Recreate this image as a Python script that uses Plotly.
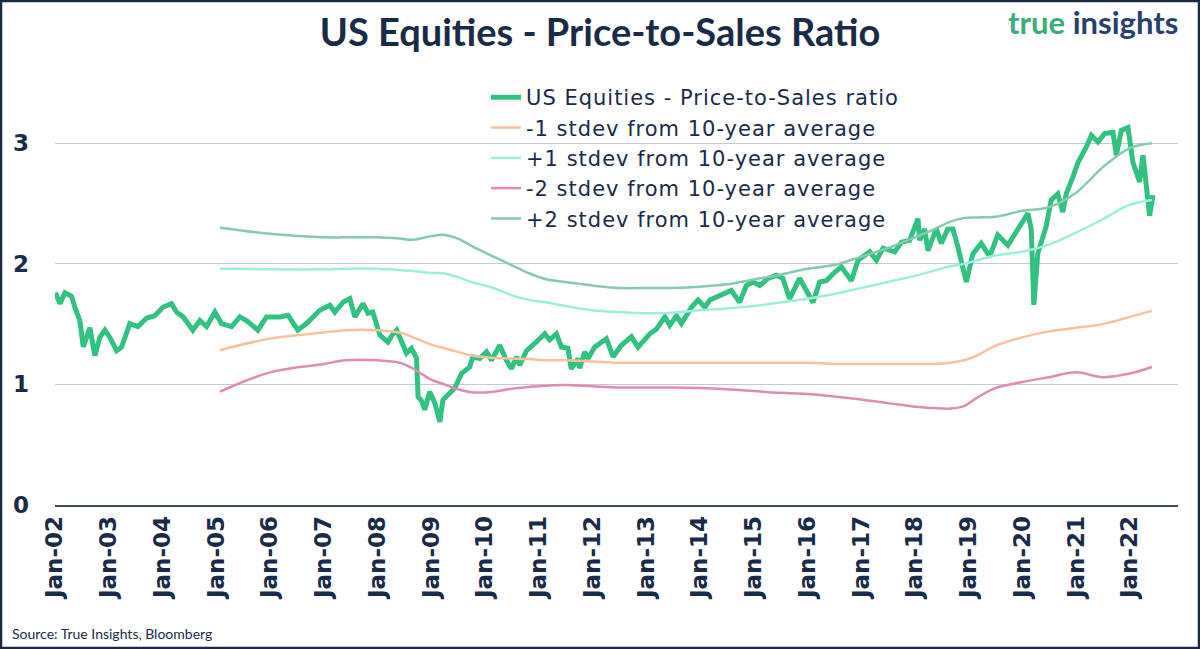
import plotly.graph_objects as go

# ---------------- data ----------------
ps_dates = [
    "2002-01-04", "2002-02-04", "2002-03-10", "2002-04-24", "2002-05-16", "2002-06-19",
    "2002-07-12", "2002-08-26", "2002-09-29", "2002-11-02", "2002-12-06", "2003-01-09",
    "2003-02-24", "2003-03-30", "2003-05-25", "2003-07-18", "2003-09-15", "2003-11-10",
    "2004-01-04", "2004-03-03", "2004-04-06", "2004-05-21", "2004-07-26", "2004-09-12",
    "2004-10-27", "2004-12-23", "2005-02-06", "2005-04-15", "2005-06-10", "2005-07-26",
    "2005-10-11", "2005-12-09", "2006-03-09", "2006-05-04", "2006-07-09", "2006-09-06",
    "2006-12-06", "2007-02-12", "2007-03-18", "2007-05-14", "2007-06-28", "2007-08-01",
    "2007-09-26", "2007-10-30", "2007-12-01", "2008-01-04", "2008-01-18", "2008-03-13",
    "2008-04-16", "2008-05-11", "2008-07-17", "2008-08-20", "2008-09-23", "2008-10-04",
    "2008-10-29", "2008-11-18", "2008-12-22", "2009-01-26", "2009-03-01", "2009-03-21",
    "2009-04-24", "2009-06-10", "2009-07-26", "2009-09-20", "2009-10-11", "2009-11-27",
    "2010-01-12", "2010-02-15", "2010-04-12", "2010-05-27", "2010-07-01", "2010-08-04",
    "2010-08-26", "2010-10-11", "2010-12-06", "2011-02-12", "2011-03-17", "2011-05-02",
    "2011-06-05", "2011-07-19", "2011-08-11", "2011-09-26", "2011-10-07", "2011-11-10",
    "2011-12-03", "2012-01-18", "2012-04-06", "2012-05-21", "2012-07-17", "2012-09-23",
    "2012-11-07", "2013-01-26", "2013-03-13", "2013-05-08", "2013-06-11", "2013-07-26",
    "2013-08-29", "2013-11-05", "2013-12-20", "2014-02-04", "2014-03-10", "2014-06-08",
    "2014-08-03", "2014-09-28", "2014-11-13", "2014-12-28", "2015-02-12", "2015-04-09",
    "2015-06-05", "2015-07-19", "2015-09-03", "2015-11-10", "2015-12-14", "2016-02-09",
    "2016-03-25", "2016-05-10", "2016-07-05", "2016-08-20", "2016-10-27", "2016-12-11",
    "2017-03-01", "2017-04-15", "2017-05-30", "2017-08-18", "2017-10-02", "2017-11-27",
    "2018-01-23", "2018-02-03", "2018-03-09", "2018-03-31", "2018-05-27", "2018-06-30",
    "2018-08-13", "2018-09-17", "2018-10-21", "2018-12-17", "2019-01-31", "2019-03-29",
    "2019-05-24", "2019-07-19", "2019-09-26", "2019-12-14", "2020-02-09", "2020-03-03",
    "2020-03-20", "2020-04-16", "2020-06-12", "2020-07-16", "2020-08-30", "2020-10-03",
    "2020-10-26", "2020-12-10", "2021-01-14", "2021-03-12", "2021-04-15", "2021-05-30",
    "2021-07-14", "2021-09-09", "2021-10-02", "2021-11-05", "2021-12-20", "2022-01-23",
    "2022-03-09", "2022-04-01", "2022-05-05", "2022-05-16", "2022-06-08",
]
ps_values = [
    1.76, 1.67, 1.76, 1.73, 1.64, 1.53,
    1.31, 1.47, 1.24, 1.39, 1.45, 1.39,
    1.28, 1.31, 1.505, 1.48, 1.55, 1.57,
    1.64, 1.67, 1.60, 1.56, 1.45, 1.53,
    1.48, 1.60, 1.505, 1.48, 1.56, 1.53,
    1.45, 1.56, 1.56, 1.574, 1.45, 1.505,
    1.615, 1.657, 1.60, 1.684, 1.712, 1.56,
    1.67, 1.59, 1.60, 1.46, 1.41, 1.35,
    1.42, 1.45, 1.26, 1.30, 1.22, 0.90,
    0.86, 0.79, 0.94, 0.845, 0.69, 0.87,
    0.91, 0.97, 1.09, 1.146, 1.23, 1.215,
    1.27, 1.20, 1.325, 1.20, 1.13, 1.23,
    1.16, 1.28, 1.34, 1.42, 1.37, 1.42,
    1.31, 1.30, 1.13, 1.215, 1.135, 1.27,
    1.215, 1.31, 1.38, 1.23, 1.325, 1.395,
    1.31, 1.42, 1.46, 1.56, 1.49, 1.57,
    1.505, 1.64, 1.70, 1.64, 1.70, 1.75,
    1.78, 1.68, 1.82, 1.85, 1.82, 1.88,
    1.905, 1.88, 1.71, 1.88, 1.81, 1.68,
    1.85, 1.86, 1.93, 1.975, 1.86, 2.03,
    2.10, 2.03, 2.13, 2.10, 2.18, 2.195,
    2.375, 2.195, 2.29, 2.11, 2.29, 2.17,
    2.29, 2.29, 2.14, 1.85, 2.085, 2.17,
    2.06, 2.24, 2.155, 2.32, 2.42, 2.28,
    1.66, 2.085, 2.31, 2.53, 2.58, 2.43,
    2.58, 2.72, 2.84, 2.97, 3.065, 3.01,
    3.08, 3.09, 2.90, 3.107, 3.13, 2.84,
    2.68, 2.90, 2.57, 2.40, 2.57,
]

band_dates = [
    "2005-01-26", "2006-01-01", "2007-01-01", "2007-06-01", "2008-01-01", "2008-06-01",
    "2008-09-01", "2009-01-01", "2009-04-01", "2009-07-01", "2009-10-01", "2010-03-01",
    "2010-07-01", "2010-11-01", "2011-03-01", "2011-07-01", "2012-01-01", "2012-07-01",
    "2013-01-01", "2013-07-01", "2014-01-01", "2014-07-01", "2015-01-01", "2015-07-01",
    "2016-01-01", "2016-07-01", "2017-01-01", "2017-07-01", "2018-01-01", "2018-05-01",
    "2018-09-01", "2018-12-01", "2019-03-01", "2019-07-01", "2020-01-01", "2020-07-01",
    "2021-01-01", "2021-07-01", "2022-01-01", "2022-06-01",
]
minus1_values = [
    1.284, 1.38, 1.43, 1.45, 1.45, 1.43,
    1.39, 1.33, 1.30, 1.27, 1.24, 1.22,
    1.215, 1.21, 1.20, 1.20, 1.19, 1.18,
    1.18, 1.18, 1.18, 1.18, 1.18, 1.18,
    1.18, 1.17, 1.17, 1.17, 1.17, 1.17,
    1.18, 1.20, 1.24, 1.32, 1.39, 1.44,
    1.47, 1.50, 1.56, 1.61,
]
plus1_values = [
    1.96, 1.955, 1.955, 1.96, 1.96, 1.95,
    1.94, 1.925, 1.92, 1.89, 1.85, 1.80,
    1.74, 1.70, 1.68, 1.65, 1.615, 1.60,
    1.59, 1.595, 1.615, 1.63, 1.65, 1.68,
    1.71, 1.75, 1.80, 1.85, 1.90, 1.94,
    1.98, 2.00, 2.03, 2.07, 2.10, 2.16,
    2.26, 2.37, 2.49, 2.53,
]
minus2_values = [
    0.94, 1.10, 1.17, 1.20, 1.20, 1.18,
    1.13, 1.04, 1.00, 0.96, 0.935, 0.94,
    0.965, 0.98, 0.99, 0.995, 0.985, 0.975,
    0.975, 0.975, 0.97, 0.96, 0.945, 0.93,
    0.92, 0.90, 0.875, 0.845, 0.815, 0.805,
    0.80, 0.82, 0.89, 0.97, 1.02, 1.06,
    1.10, 1.06, 1.09, 1.145,
]
plus2_values = [
    2.30, 2.25, 2.22, 2.22, 2.22, 2.21,
    2.20, 2.23, 2.24, 2.21, 2.15, 2.06,
    1.99, 1.92, 1.87, 1.85, 1.82, 1.80,
    1.80, 1.80, 1.81, 1.83, 1.87, 1.91,
    1.96, 1.99, 2.06, 2.13, 2.22, 2.28,
    2.35, 2.38, 2.385, 2.39, 2.44, 2.47,
    2.59, 2.80, 2.96, 3.00,
]

series_names = [
    "US Equities - Price-to-Sales ratio",
    "-1 stdev from 10-year average",
    "+1 stdev from 10-year average",
    "-2 stdev from 10-year average",
    "+2 stdev from 10-year average",
]
y_ticks = [0, 1, 2, 3]

# ---------------- styling ----------------
NAVY = "#1a2b48"
FONT = "Lato"


def legend_label(s):
    return "<span style='letter-spacing:1px'>" + s + "</span>"


fig = go.Figure()
fig.add_trace(go.Scatter(x=ps_dates, y=ps_values, mode="lines",
                         name=legend_label(series_names[0]),
                         line=dict(color="#31c282", width=5)))
band_series = [minus1_values, plus1_values, minus2_values, plus2_values]
band_colors = ["#f5c29d", "#9cefdb", "#dd8db1", "#86c9b1"]
for name, vals, col in zip(series_names[1:], band_series, band_colors):
    fig.add_trace(go.Scatter(x=band_dates, y=vals, mode="lines",
                             name=legend_label(name),
                             line=dict(color=col, width=2.5, shape="spline")))

fig.update_layout(
    width=1200, height=649,
    margin=dict(l=55, r=22, t=83, b=144),
    paper_bgcolor="white", plot_bgcolor="white",
    font=dict(family=FONT, color=NAVY),
    title=dict(text="<b>US Equities - Price-to-Sales Ratio</b>",
               x=0.5, xanchor="center", xref="container",
               y=1 - 33 / 649, yanchor="middle",
               font=dict(family=FONT, size=38, color=NAVY)),
    legend=dict(x=0.3838, y=1.014, xanchor="left", yanchor="top",
                bgcolor="rgba(0,0,0,0)",
                font=dict(family="DejaVu Sans", size=21, color=NAVY),
                itemwidth=30, tracegroupgap=0),
    showlegend=True,
)
fig.update_xaxes(
    type="date", range=["2002-01-01", "2022-11-25"],
    tick0="2002-01-01", dtick="M12", tickformat="%b-%y",
    tickangle=-90, ticks="", showgrid=False,
    showline=True, linecolor="#3d4b5f", linewidth=1.5,
    tickfont=dict(family="DejaVu Sans", size=23, color=NAVY, weight="bold"),
    ticklabelstandoff=0,
)
fig.update_yaxes(
    range=[0, 3.5], tickvals=y_ticks, ticks="",
    showgrid=True, gridcolor="#c5c9d6", gridwidth=1,
    zeroline=False, showline=False,
    tickfont=dict(family="DejaVu Sans", size=23, color=NAVY, weight="bold"),
    ticklabelstandoff=25,
)

# logo and source
fig.add_annotation(text="<b><span style='color:#3aae78'>true</span> insights</b>",
                   xref="paper", yref="paper", x=(1180 - 55) / 1123, y=(505 - 22) / 422,
                   xanchor="right", yanchor="middle", showarrow=False,
                   font=dict(family=FONT, size=31, color="#27416a"))
fig.add_annotation(text="Source: True Insights, Bloomberg",
                   xref="paper", yref="paper", x=(10 - 55) / 1123, y=(505 - 633) / 422,
                   xanchor="left", yanchor="middle", showarrow=False,
                   font=dict(family=FONT, size=14, color=NAVY))
# frame
fig.add_shape(type="rect", xref="paper", yref="paper",
              x0=(1 - 55) / 1123, x1=(1199 - 55) / 1123,
              y0=(505 - 648) / 422, y1=(505 - 1) / 422,
              line=dict(color="#1b2a44", width=2.5), fillcolor="rgba(0,0,0,0)")

fig.write_html("out.html", config={"displayModeBar": False},
               post_script="document.body.style.margin='0';document.body.style.overflow='hidden';")
